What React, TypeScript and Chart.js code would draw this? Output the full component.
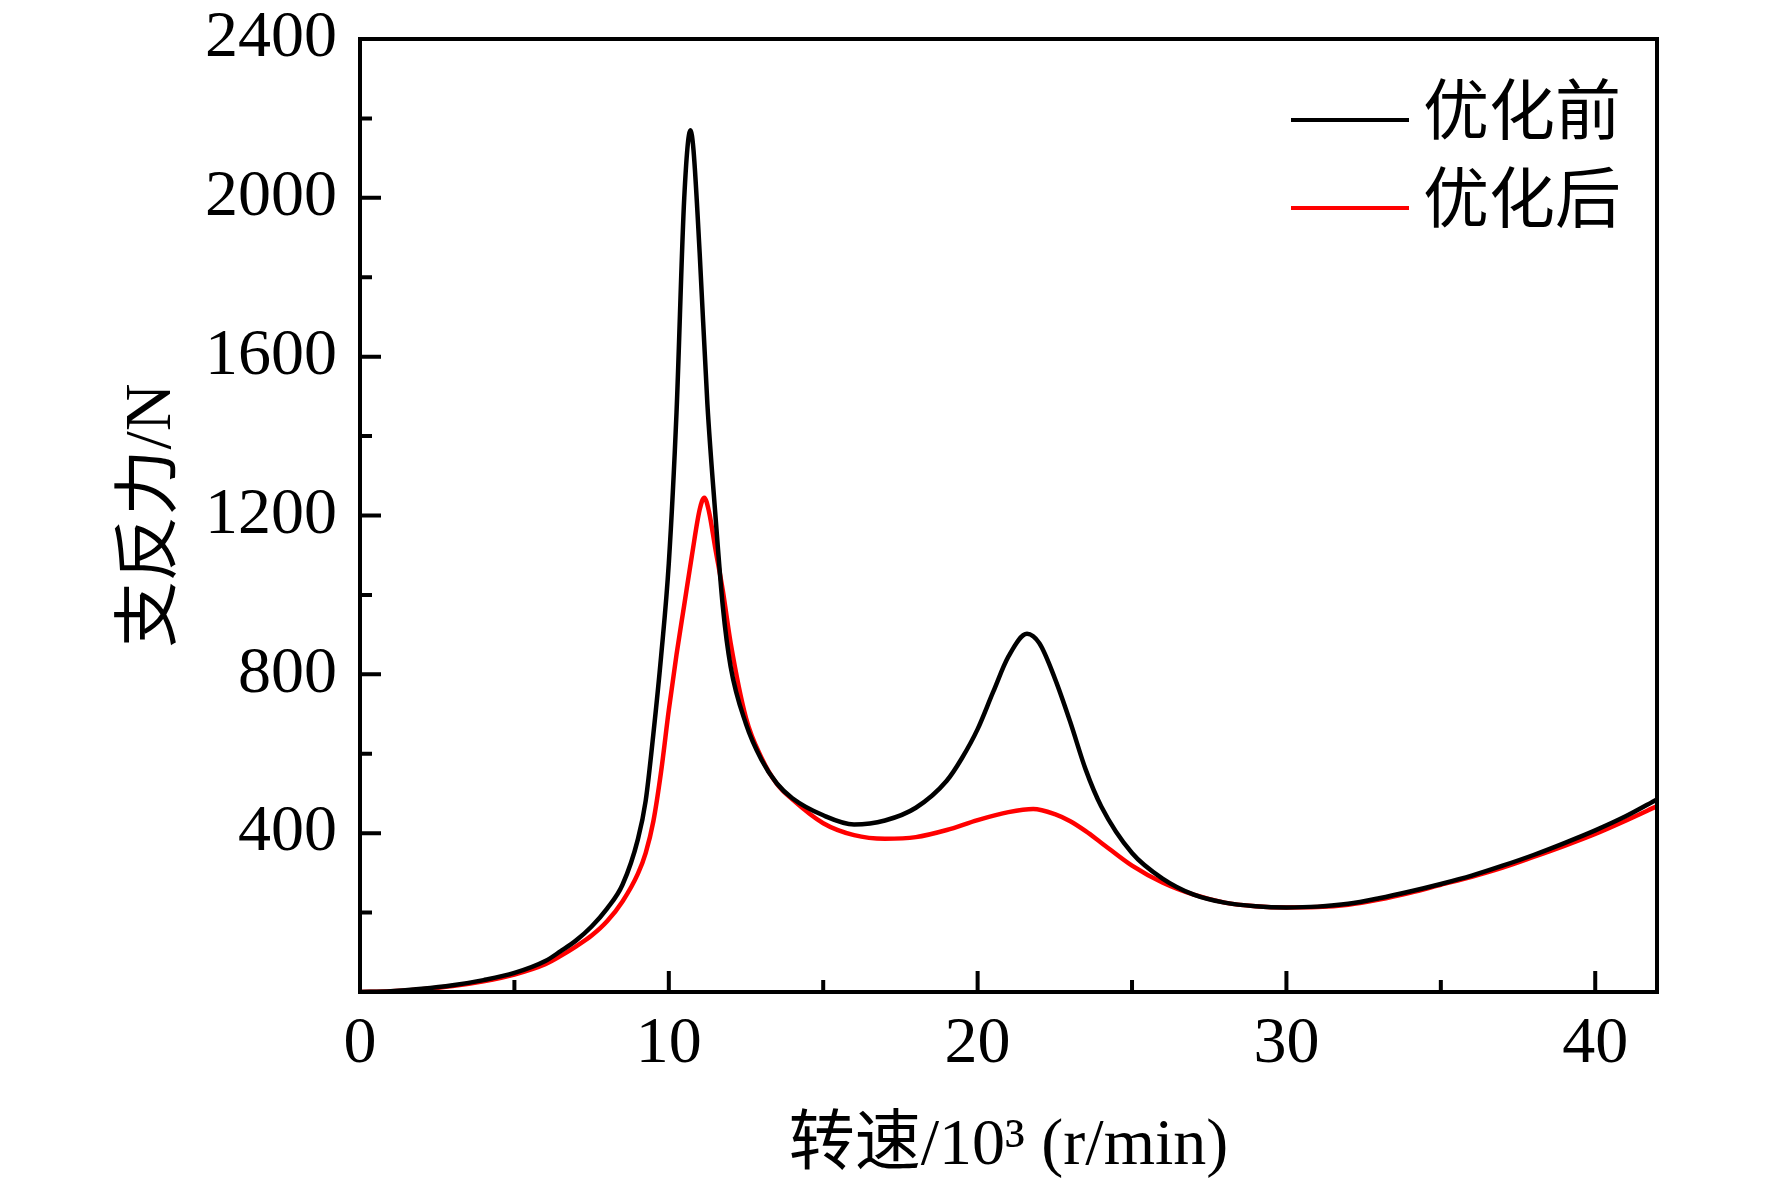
import { useEffect, useRef } from "react"
import { Chart, registerables, type ChartConfiguration, type Plugin } from "chart.js"

Chart.register(...registerables)

// 优化前 (black)
const beforeSpeed = [
  0, 1, 2, 3, 4, 5, 6, 6.5, 7, 7.5, 8, 8.5, 9, 9.25, 9.5, 9.75, 10, 10.25, 10.5, 10.7, 10.8,
  11, 11.25, 11.5, 11.75, 12, 12.5, 13, 13.5, 14, 15, 16, 17, 18, 19, 19.5, 20, 20.5, 21, 21.6, 22,
  22.5, 23, 23.5, 24, 25, 26, 27, 28, 29, 30, 31, 32, 33, 34, 35, 36, 37, 38, 39, 40, 41, 42,
]
const beforeForce = [
  0, 2, 8, 17, 30, 48, 78, 103, 130, 165, 210, 270, 385, 481, 650, 845, 1080, 1460, 2000, 2170, 2120,
  1860, 1480, 1210, 970, 820, 675, 585, 525, 488, 445, 422, 432, 464, 532, 590, 662, 755, 845, 902, 878,
  790, 680, 560, 468, 350, 285, 245, 225, 216, 213, 215, 222, 236, 253, 272, 293, 318, 345, 375, 407, 443, 485,
]

// 优化后 (red)
const afterSpeed = [
  0, 1, 2, 3, 4, 5, 6, 6.5, 7, 7.5, 8, 8.5, 9, 9.25, 9.5, 9.75, 10, 10.25, 10.5, 10.75, 11, 11.15,
  11.3, 11.5, 11.75, 12, 12.5, 13, 13.5, 14, 15, 16, 17, 18, 19, 20, 21, 21.8, 22.5, 23, 23.5,
  24, 25, 26, 27, 28, 29, 30, 31, 32, 33, 34, 35, 36, 37, 38, 39, 40, 41, 42,
]
const afterForce = [
  0, 2, 7, 15, 27, 44, 70, 91, 115, 142, 178, 228, 298, 350, 430, 555, 710, 850, 975, 1100, 1215, 1245,
  1210, 1120, 1010, 880, 690, 590, 524, 485, 425, 395, 386, 390, 408, 433, 453, 461, 448, 430, 405,
  376, 318, 275, 245, 225, 216, 213, 214, 220, 233, 250, 270, 290, 313, 340, 368, 398, 432, 468,
]

const xMajorTicks = [0, 10, 20, 30, 40]
const xMinorTicks = [5, 15, 25, 35]
const yMajorTicks = [0, 400, 800, 1200, 1600, 2000, 2400]
const yMinorTicks = [200, 600, 1000, 1400, 1800, 2200]

const serif = '"Liberation Serif", "Times New Roman", serif'
const serifCjk = '"Liberation Serif", "Noto Sans CJK SC", serif'

const frameAndTicks: Plugin<"line"> = {
  id: "frameAndTicks",
  afterDatasetsDraw(chart) {
    const { ctx, chartArea } = chart
    const { left, right, top, bottom } = chartArea
    const x = chart.scales.x
    const y = chart.scales.y
    ctx.save()
    ctx.strokeStyle = "#000"
    ctx.lineWidth = 4
    ctx.beginPath()
    xMajorTicks.forEach((v) => {
      const px = x.getPixelForValue(v)
      ctx.moveTo(px, bottom)
      ctx.lineTo(px, bottom - 21)
    })
    xMinorTicks.forEach((v) => {
      const px = x.getPixelForValue(v)
      ctx.moveTo(px, bottom)
      ctx.lineTo(px, bottom - 12)
    })
    yMajorTicks.forEach((v) => {
      const py = y.getPixelForValue(v)
      ctx.moveTo(left, py)
      ctx.lineTo(left + 21, py)
    })
    yMinorTicks.forEach((v) => {
      const py = y.getPixelForValue(v)
      ctx.moveTo(left, py)
      ctx.lineTo(left + 12, py)
    })
    ctx.stroke()
    ctx.strokeRect(left, top, right - left, bottom - top)
    ctx.restore()
  },
}

const lineLegend: Plugin<"line"> = {
  id: "lineLegend",
  afterDraw(chart) {
    const { ctx, chartArea } = chart
    ctx.save()
    chart.data.datasets.forEach((ds, i) => {
      const ly = chartArea.top + 81 + i * 88
      ctx.strokeStyle = ds.borderColor as string
      ctx.lineWidth = 4
      ctx.beginPath()
      ctx.moveTo(chartArea.right - 366, ly)
      ctx.lineTo(chartArea.right - 248, ly)
      ctx.stroke()
      ctx.fillStyle = "#000"
      ctx.font = `66px ${serifCjk}`
      ctx.textAlign = "left"
      ctx.textBaseline = "middle"
      ctx.fillText(ds.label ?? "", chartArea.right - 234, ly - 3)
    })
    ctx.restore()
  },
}

export default function App() {
  const chartRef = useRef<HTMLCanvasElement>(null)
  const chartInstance = useRef<Chart<"line"> | null>(null)

  useEffect(() => {
    if (!chartRef.current) return
    if (chartInstance.current) chartInstance.current.destroy()

    const config: ChartConfiguration<"line"> = {
      type: "line",
      data: {
        datasets: [
          {
            label: "优化前",
            data: beforeSpeed.map((s, i) => ({ x: s, y: beforeForce[i] })),
            borderColor: "#000000",
            borderWidth: 4.5,
            pointRadius: 0,
            cubicInterpolationMode: "monotone",
          },
          {
            label: "优化后",
            data: afterSpeed.map((s, i) => ({ x: s, y: afterForce[i] })),
            borderColor: "#ff0000",
            borderWidth: 4.5,
            pointRadius: 0,
            cubicInterpolationMode: "monotone",
          },
        ],
      },
      options: {
        responsive: false,
        animation: false,
        devicePixelRatio: 1,
        layout: { padding: { top: 39, right: 115, left: 0, bottom: 0 }, autoPadding: false },
        plugins: {
          legend: { display: false },
          tooltip: { enabled: false },
        },
        scales: {
          x: {
            type: "linear",
            min: 0,
            max: 42,
            afterFit: (scale) => {
              scale.height = 193
            },
            grid: { display: false, drawTicks: false },
            border: { display: false },
            ticks: {
              stepSize: 10,
              includeBounds: false,
              padding: 13,
              color: "#000",
              maxRotation: 0,
              font: { family: serif, size: 66 },
            },
            title: {
              display: true,
              text: "转速/10³ (r/min)",
              color: "#000",
              font: { family: serifCjk, size: 66, lineHeight: 1 },
              padding: { top: 0, bottom: 5 },
            },
          },
          y: {
            type: "linear",
            min: 0,
            max: 2400,
            afterFit: (scale) => {
              scale.width = 360
            },
            grid: { display: false, drawTicks: true, tickLength: 23 },
            border: { display: false },
            ticks: {
              stepSize: 400,
              padding: 0,
              color: "#000",
              font: { family: serif, size: 66, lineHeight: 1 },
              callback: (v) => (v === 0 ? "" : String(v)),
            },
            title: {
              display: true,
              text: "支反力/N",
              color: "#000",
              font: { family: serifCjk, size: 66, lineHeight: 1 },
              padding: { top: 120, bottom: 0 },
            },
          },
        },
      },
      plugins: [frameAndTicks, lineLegend],
    }

    chartInstance.current = new Chart(chartRef.current, config)

    return () => {
      if (chartInstance.current) {
        chartInstance.current.destroy()
        chartInstance.current = null
      }
    }
  }, [])

  return (
    <div style={{ position: "fixed", left: 0, top: 0, width: 1772, height: 1185, background: "#fff" }}>
      <canvas ref={chartRef} width={1772} height={1185}></canvas>
    </div>
  )
}
